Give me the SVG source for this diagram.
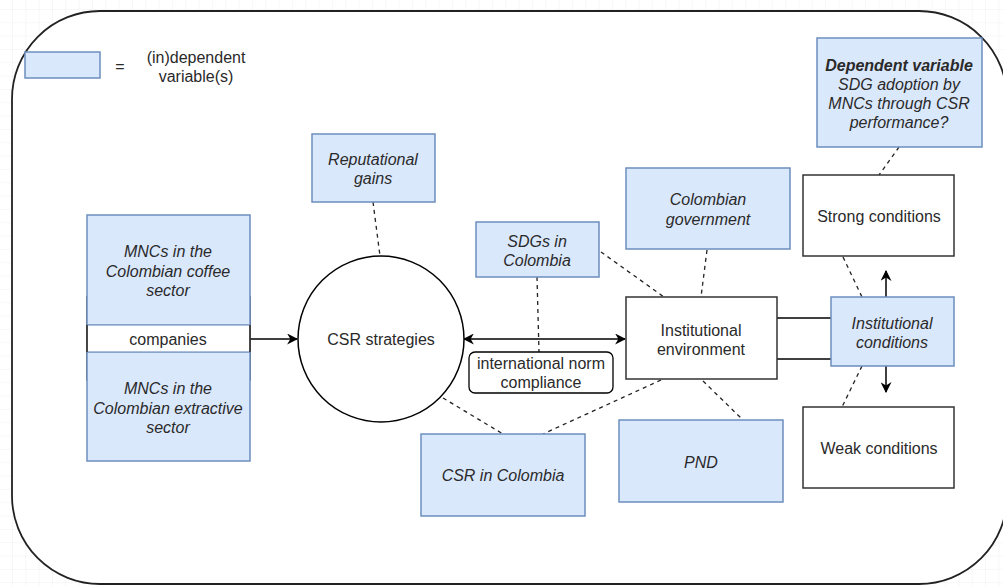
<svg xmlns="http://www.w3.org/2000/svg" width="1003" height="586" viewBox="0 0 1003 586">
  <defs>
    <pattern id="grid" x="12" y="9" width="13.33" height="13.33" patternUnits="userSpaceOnUse">
      <path d="M 13.33 0 L 0 0 0 13.33" fill="none" stroke="#f0f0f0" stroke-width="1"/>
    </pattern>
    <marker id="arrow" viewBox="0 0 10 10" refX="9" refY="5" markerWidth="11" markerHeight="11" markerUnits="userSpaceOnUse" orient="auto-start-reverse">
      <path d="M 0 0 L 10 5 L 0 10 L 3 5 Z" fill="#000"/>
    </marker>
    <style>
      .var { fill: #dae8fc; stroke: #6c8ebf; stroke-width: 1.5; }
      .plain { fill: #ffffff; stroke: #333333; stroke-width: 1.5; }
      .t { font-family: "Liberation Sans", Arial, sans-serif; font-size: 16px; fill: #2a2a2a; text-anchor: middle; dominant-baseline: central; }
      .i { font-style: italic; }
      .b { font-weight: bold; }
      .dash { stroke: #222; stroke-width: 1.3; stroke-dasharray: 4 4; fill: none; }
      .solid { stroke: #000; stroke-width: 1.5; fill: none; }
    </style>
  </defs>

  <!-- background grid and frame -->
  <rect x="0" y="0" width="1003" height="586" fill="#ffffff"/>
  <rect x="0" y="0" width="1003" height="586" fill="url(#grid)"/>
  <rect x="12" y="11" width="995" height="573" rx="88" ry="88" fill="#ffffff" stroke="#222" stroke-width="1.8"/>

  <!-- legend -->
  <g id="legend">
    <rect class="var" x="25" y="52" width="75" height="26"/>
    <text class="t" x="120" y="66">=</text>
    <text class="t" x="196" y="57">(in)dependent</text>
    <text class="t" x="196" y="76">variable(s)</text>
  </g>

  <!-- connectors -->
  <g id="connectors">
    <line class="solid" x1="250" y1="339" x2="297" y2="339" marker-end="url(#arrow)"/>
    <line class="solid" x1="464" y1="339" x2="625" y2="339" marker-start="url(#arrow)" marker-end="url(#arrow)"/>
    <line class="dash" x1="373" y1="202" x2="380" y2="256"/>
    <line class="dash" x1="537" y1="277" x2="539" y2="352"/>
    <line class="dash" x1="601" y1="252" x2="664" y2="297"/>
    <line class="dash" x1="707" y1="250" x2="701" y2="297"/>
    <line class="dash" x1="443" y1="398" x2="503" y2="434"/>
    <line class="dash" x1="661" y1="380" x2="543" y2="434"/>
    <line class="dash" x1="703" y1="381" x2="743" y2="420"/>
    <line class="dash" x1="899" y1="147" x2="879" y2="175"/>
    <line class="dash" x1="843" y1="257" x2="862" y2="297"/>
    <line class="dash" x1="862" y1="366" x2="842" y2="407"/>
    <line class="solid" x1="777" y1="318" x2="831" y2="318" stroke="#333"/>
    <line class="solid" x1="777" y1="359" x2="831" y2="359" stroke="#333"/>
    <line class="solid" x1="886" y1="297" x2="886" y2="271" marker-end="url(#arrow)"/>
    <line class="solid" x1="886" y1="366" x2="886" y2="392" marker-end="url(#arrow)"/>
  </g>

  <!-- companies stack: outer frame, two sector boxes, middle label band -->
  <g id="companies">
    <rect class="plain" x="87" y="297" width="163" height="83"/>
  </g>
  <g id="coffee">
    <rect class="var" x="87" y="215" width="163" height="110"/>
    <text class="t i" x="168" y="251">MNCs in the</text>
    <text class="t i" x="168" y="271">Colombian coffee</text>
    <text class="t i" x="168" y="290">sector</text>
  </g>
  <g id="extractive">
    <rect class="var" x="87" y="352" width="163" height="109"/>
    <text class="t i" x="168" y="388">MNCs in the</text>
    <text class="t i" x="168" y="408">Colombian extractive</text>
    <text class="t i" x="168" y="427">sector</text>
  </g>
  <g id="companies-label">
    <rect x="87.75" y="325.75" width="161.5" height="25.5" fill="#ffffff"/>
    <line x1="87" y1="325" x2="87" y2="352" stroke="#333" stroke-width="1.5"/>
    <line x1="250" y1="325" x2="250" y2="352" stroke="#333" stroke-width="1.5"/>
    <text class="t" x="168" y="339">companies</text>
  </g>

  <g id="csr-strategies">
    <circle cx="381" cy="339" r="83" fill="#ffffff" stroke="#000" stroke-width="1.5"/>
    <text class="t" x="381" y="339">CSR strategies</text>
  </g>

  <g id="reputational">
    <rect class="var" x="312" y="134" width="123" height="68"/>
    <text class="t i" x="373" y="159">Reputational</text>
    <text class="t i" x="373" y="178">gains</text>
  </g>

  <g id="sdgs">
    <rect class="var" x="476" y="222" width="123" height="55"/>
    <text class="t i" x="537" y="241">SDGs in</text>
    <text class="t i" x="537" y="260">Colombia</text>
  </g>

  <g id="norm-compliance">
    <rect x="469" y="352" width="144" height="41" rx="6" ry="6" fill="#ffffff" stroke="#000" stroke-width="1.3"/>
    <text class="t" x="541" y="363">international norm</text>
    <text class="t" x="541" y="382">compliance</text>
  </g>

  <g id="institutional-environment">
    <rect class="plain" x="626" y="297" width="151" height="82" stroke="#000"/>
    <text class="t" x="701" y="330">Institutional</text>
    <text class="t" x="701" y="349">environment</text>
  </g>

  <g id="government">
    <rect class="var" x="626" y="168" width="164" height="81"/>
    <text class="t i" x="708" y="199">Colombian</text>
    <text class="t i" x="708" y="219">government</text>
  </g>

  <g id="pnd">
    <rect class="var" x="619" y="420" width="164" height="82"/>
    <text class="t i" x="701" y="462">PND</text>
  </g>

  <g id="csr-colombia">
    <rect class="var" x="421" y="434" width="164" height="82"/>
    <text class="t i" x="503" y="475">CSR in Colombia</text>
  </g>

  <g id="strong">
    <rect class="plain" x="803" y="175" width="151" height="81"/>
    <text class="t" x="879" y="216">Strong conditions</text>
  </g>

  <g id="weak">
    <rect class="plain" x="803" y="407" width="151" height="81"/>
    <text class="t" x="879" y="448">Weak conditions</text>
  </g>

  <g id="institutional-conditions">
    <rect class="var" x="831" y="297" width="123" height="69"/>
    <text class="t i" x="892" y="323">Institutional</text>
    <text class="t i" x="892" y="342">conditions</text>
  </g>

  <g id="dependent">
    <rect class="var" x="817" y="38" width="165" height="109"/>
    <text class="t i b" x="899" y="65">Dependent variable</text>
    <text class="t i" x="899" y="84">SDG adoption by</text>
    <text class="t i" x="899" y="103">MNCs through CSR</text>
    <text class="t i" x="899" y="122">performance?</text>
  </g>
</svg>
